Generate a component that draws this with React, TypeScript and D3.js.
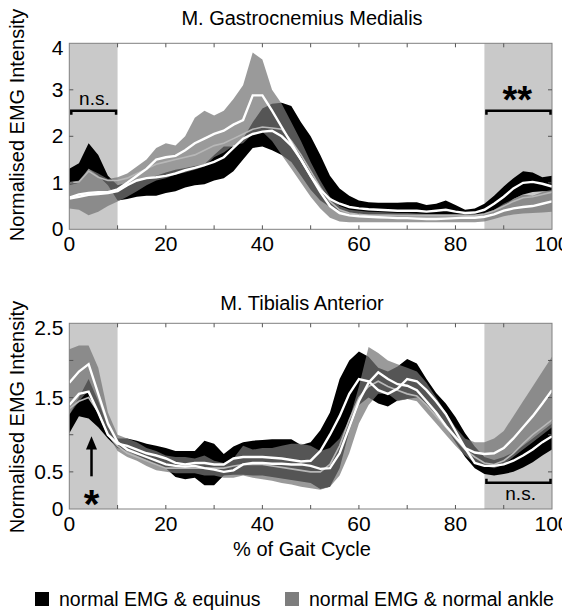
import React from "react";
import * as d3 from "d3";

// % of gait cycle sample points
const gait = [0,2,4,6,8,10,12,14,16,18,20,22,24,26,28,30,32,34,36,38,40,42,44,46,48,50,52,54,56,58,60,62,64,66,68,70,72,74,76,78,80,82,84,86,88,90,92,94,96,98,100];

// ---- M. Gastrocnemius Medialis ----
const gmEqLow = [0.95,1.0,1.3,1.15,0.95,0.62,0.65,0.7,0.72,0.72,0.78,0.82,0.9,0.95,0.97,1.05,1.1,1.25,1.5,1.75,1.78,1.7,1.6,1.45,1.15,0.85,0.62,0.48,0.4,0.35,0.33,0.32,0.32,0.32,0.31,0.31,0.3,0.3,0.3,0.3,0.3,0.28,0.29,0.32,0.4,0.5,0.65,0.75,0.8,0.82,0.82];
const gmEqHigh = [1.3,1.42,1.85,1.6,1.15,0.95,1.0,1.05,1.1,1.15,1.22,1.28,1.32,1.36,1.4,1.6,1.78,1.78,1.95,2.3,2.6,2.7,2.72,2.65,2.3,2.0,1.6,1.15,0.88,0.72,0.62,0.58,0.57,0.57,0.57,0.58,0.58,0.52,0.55,0.62,0.52,0.42,0.45,0.55,0.72,0.92,1.1,1.25,1.22,1.12,1.15];
const gmEqMean = [0.66,0.7,0.74,0.76,0.78,0.82,0.95,1.05,1.1,1.12,1.15,1.2,1.27,1.32,1.38,1.45,1.55,1.75,1.95,2.05,2.1,2.12,2.0,1.8,1.5,1.15,0.85,0.65,0.55,0.48,0.45,0.43,0.42,0.41,0.4,0.4,0.4,0.38,0.4,0.42,0.38,0.35,0.36,0.42,0.55,0.7,0.88,1.0,1.02,0.98,0.92];
const gmNaLow = [0.45,0.42,0.3,0.38,0.5,0.6,0.7,0.82,0.95,1.05,1.1,1.18,1.22,1.28,1.35,1.55,1.65,1.8,1.85,2.05,2.1,1.9,1.6,1.3,1.0,0.7,0.45,0.25,0.17,0.15,0.15,0.15,0.15,0.15,0.15,0.15,0.15,0.15,0.15,0.15,0.15,0.15,0.15,0.17,0.22,0.28,0.32,0.34,0.35,0.36,0.38];
const gmNaHigh = [1.0,1.05,1.3,1.2,1.08,1.12,1.2,1.35,1.5,1.75,1.85,1.8,2.0,2.4,2.55,2.45,2.55,2.8,3.1,3.8,3.65,3.0,2.7,2.3,1.9,1.45,1.05,0.7,0.5,0.42,0.4,0.38,0.37,0.36,0.35,0.35,0.34,0.33,0.33,0.33,0.33,0.32,0.32,0.35,0.42,0.55,0.65,0.75,0.72,0.8,0.85];
const gmNaMean = [0.68,0.75,0.78,0.8,0.8,0.86,1.0,1.15,1.3,1.5,1.55,1.58,1.7,1.85,1.95,2.05,2.12,2.25,2.35,2.88,2.88,2.55,2.2,1.85,1.5,1.15,0.8,0.5,0.35,0.3,0.28,0.27,0.26,0.25,0.24,0.24,0.23,0.22,0.22,0.23,0.24,0.25,0.25,0.27,0.32,0.4,0.45,0.48,0.5,0.55,0.6];
const gmTrace = [1.0,1.02,1.25,1.12,1.05,1.05,1.1,1.2,1.3,1.4,1.45,1.5,1.55,1.6,1.7,1.8,1.85,1.95,2.05,2.15,2.2,2.18,2.15,1.9,1.6,1.25,0.9,0.6,0.42,0.35,0.32,0.3,0.3,0.3,0.3,0.3,0.3,0.3,0.3,0.3,0.3,0.3,0.3,0.33,0.4,0.5,0.6,0.68,0.7,0.75,0.8];

// ---- M. Tibialis Anterior ----
const taEqLow = [1.02,1.25,1.22,1.1,0.95,0.82,0.78,0.72,0.66,0.6,0.55,0.43,0.4,0.42,0.32,0.32,0.45,0.46,0.46,0.45,0.45,0.43,0.41,0.39,0.37,0.35,0.27,0.3,0.55,1.05,1.4,1.5,1.42,1.38,1.46,1.48,1.5,1.4,1.28,1.1,0.9,0.7,0.55,0.47,0.45,0.47,0.5,0.56,0.63,0.72,0.8];
const taEqHigh = [1.27,1.5,1.75,1.45,1.1,0.95,0.95,0.92,0.88,0.85,0.82,0.78,0.78,0.78,0.92,0.88,0.74,0.84,0.9,0.92,0.93,0.94,0.94,0.94,0.86,0.9,1.06,1.3,1.75,2.0,2.12,2.05,1.9,1.85,1.92,2.02,1.96,1.75,1.56,1.42,1.24,1.02,0.84,0.7,0.66,0.7,0.76,0.85,0.95,1.05,1.15];
const taEqMean = [1.4,1.55,1.58,1.3,1.0,0.88,0.85,0.8,0.75,0.72,0.68,0.62,0.6,0.62,0.62,0.6,0.6,0.68,0.7,0.7,0.7,0.69,0.68,0.66,0.64,0.65,0.78,1.0,1.25,1.55,1.75,1.72,1.6,1.55,1.62,1.75,1.72,1.6,1.45,1.28,1.05,0.82,0.62,0.58,0.58,0.6,0.65,0.72,0.8,0.9,0.98];
const taNaLow = [1.27,1.45,1.6,1.3,1.0,0.78,0.7,0.65,0.58,0.52,0.5,0.48,0.48,0.48,0.45,0.45,0.42,0.42,0.45,0.42,0.4,0.38,0.35,0.33,0.3,0.28,0.26,0.3,0.45,0.75,1.15,1.4,1.55,1.55,1.45,1.48,1.45,1.3,1.15,1.0,0.85,0.72,0.62,0.58,0.55,0.6,0.7,0.8,0.9,1.0,1.1];
const taNaHigh = [2.15,2.2,2.2,1.9,1.3,1.0,0.95,0.9,0.82,0.78,0.72,0.7,0.7,0.68,0.72,0.65,0.62,0.68,0.85,0.8,0.82,0.82,0.85,0.88,0.88,0.85,0.78,0.82,0.95,1.2,1.65,2.18,2.1,2.0,1.95,1.9,1.85,1.7,1.5,1.3,1.1,0.95,0.9,0.9,0.95,1.05,1.25,1.45,1.65,1.85,2.05];
const taNaMean = [1.7,1.85,1.95,1.55,1.15,0.9,0.8,0.75,0.7,0.65,0.6,0.58,0.57,0.58,0.55,0.53,0.5,0.52,0.6,0.62,0.62,0.61,0.61,0.6,0.6,0.58,0.54,0.55,0.75,1.1,1.45,1.7,1.84,1.75,1.68,1.66,1.6,1.45,1.3,1.12,0.97,0.82,0.76,0.74,0.75,0.82,0.95,1.1,1.25,1.42,1.6];
const taTrace = [1.35,1.45,1.5,1.3,1.0,0.85,0.75,0.7,0.65,0.6,0.55,0.55,0.55,0.55,0.55,0.55,0.55,0.58,0.6,0.6,0.6,0.58,0.56,0.54,0.52,0.5,0.5,0.6,0.85,1.2,1.5,1.65,1.72,1.65,1.6,1.55,1.52,1.4,1.25,1.1,0.95,0.8,0.7,0.62,0.6,0.65,0.75,0.88,1.0,1.1,1.2];

const xTickLabels = [0, 20, 40, 60, 80, 100];
const xMinorTicks = [10, 20, 30, 40, 50, 60, 70, 80, 90];
const gmYLabels = [0, 1, 2, 3, 4];
const gmYTicks = [1, 2, 3];
const taYLabels = [0, 0.5, 1.5, 2.5];
const taYTicks = [0.5, 1, 1.5, 2];
const shadedWindows: [number, number][] = [[0, 10], [86, 100]];

const legendItems = [
  { label: "normal EMG & equinus", color: "#000000" },
  { label: "normal EMG & normal ankle", color: "#7d7d7d" },
];

const FONT = "Liberation Sans, Arial, Helvetica, sans-serif";
const X0 = 69.3, X1 = 552;
const TEXT_CX = 302;

const x = d3.scaleLinear().domain([0, 100]).range([X0, X1]);

type PanelProps = {
  title: string;
  titleY: number;
  labelCY: number;
  top: number;
  bottom: number;
  yMax: number;
  yLabels: number[];
  yTicks: number[];
  eqLow: number[]; eqHigh: number[]; eqMean: number[];
  naLow: number[]; naHigh: number[]; naMean: number[];
  trace: number[];
  children?: (y: d3.ScaleLinear<number, number>) => React.ReactNode;
};

function Panel(p: PanelProps) {
  const y = d3.scaleLinear().domain([0, p.yMax]).range([p.bottom, p.top]);
  const area = (lo: number[], hi: number[]) =>
    d3.area<number>().x((_, i) => x(gait[i])).y0((_, i) => y(lo[i])).y1((_, i) => y(hi[i]))(gait) || "";
  const line = (v: number[]) => d3.line<number>().x((_, i) => x(gait[i])).y((_, i) => y(v[i]))(gait) || "";
  return (
    <g>
      <text x={TEXT_CX} y={p.titleY} textAnchor="middle" fontSize={20} fontFamily={FONT}>{p.title}</text>
      {shadedWindows.map(([a, b], i) => (
        <rect key={i} x={x(a)} y={p.top} width={x(b) - x(a)} height={p.bottom - p.top} fill="#c9c9c9" />
      ))}
      <path d={area(p.eqLow, p.eqHigh)} fill="#000" />
      <path d={area(p.naLow, p.naHigh)} fill="rgb(116,116,116)" fillOpacity={0.73} />
      <path d={line(p.trace)} fill="none" stroke="#b8b8b8" strokeWidth={1.6} />
      <path d={line(p.eqMean)} fill="none" stroke="#fff" strokeWidth={2.4} />
      <path d={line(p.naMean)} fill="none" stroke="#fff" strokeWidth={2.4} />
      <rect x={X0} y={p.top} width={X1 - X0} height={p.bottom - p.top} fill="none" stroke="#808080" strokeWidth={1} />
      {xMinorTicks.map((t) => (
        <g key={t}>
          <line x1={x(t)} x2={x(t)} y1={p.bottom} y2={p.bottom - 4} stroke="#555" />
          <line x1={x(t)} x2={x(t)} y1={p.top} y2={p.top + 4} stroke="#555" />
        </g>
      ))}
      {p.yTicks.map((t) => (
        <g key={t}>
          <line x1={X0} x2={X0 + 4} y1={y(t)} y2={y(t)} stroke="#555" />
          <line x1={X1} x2={X1 - 4} y1={y(t)} y2={y(t)} stroke="#555" />
        </g>
      ))}
      {xTickLabels.map((t) => (
        <text key={t} x={x(t)} y={p.bottom + 22} textAnchor="middle" fontSize={21} fontFamily={FONT}>{t}</text>
      ))}
      {p.yLabels.map((t) => (
        <text key={t} x={63.5} y={Math.max(y(t) + 7, p.top + 12)} textAnchor="end" fontSize={21} fontFamily={FONT}>{String(t)}</text>
      ))}
      <text transform={`translate(24,${p.labelCY}) rotate(-90)`} textAnchor="middle" fontSize={20} fontFamily={FONT}>Normalised EMG Intensity</text>
      {p.children && p.children(y)}
    </g>
  );
}

function Bracket({ a, b, yv, up }: { a: number; b: number; yv: number; up: boolean }) {
  const d = up ? -4 : 4;
  return (
    <path d={`M${x(a) + 2},${yv + d} L${x(a) + 2},${yv} L${x(b) - 1.5},${yv} L${x(b) - 1.5},${yv + d}`}
      stroke="#000" strokeWidth={2.5} fill="none" />
  );
}

export default function App() {
  return (
    <svg width={562} height={611} style={{ position: "absolute", left: 0, top: 0, background: "#fff" }}>
      <Panel title="M. Gastrocnemius Medialis" titleY={25} labelCY={125} top={43.3} bottom={229.3} yMax={4}
        yLabels={gmYLabels} yTicks={gmYTicks}
        eqLow={gmEqLow} eqHigh={gmEqHigh} eqMean={gmEqMean} naLow={gmNaLow} naHigh={gmNaHigh} naMean={gmNaMean} trace={gmTrace}>
        {(y) => (
          <g>
            <Bracket a={0} b={10} yv={y(2.55)} up={false} />
            <text x={x(5.2)} y={y(2.55) - 5.5} textAnchor="middle" fontSize={19} fontFamily={FONT}>n.s.</text>
            <Bracket a={86} b={100} yv={y(2.55)} up={false} />
            <text x={x(92.8)} y={y(2.55) + 2} textAnchor="middle" fontSize={38} fontWeight="bold" fontFamily={FONT}>**</text>
          </g>
        )}
      </Panel>
      <Panel title="M. Tibialis Anterior" titleY={310} labelCY={417} top={323.3} bottom={509} yMax={2.5}
        yLabels={taYLabels} yTicks={taYTicks}
        eqLow={taEqLow} eqHigh={taEqHigh} eqMean={taEqMean} naLow={taNaLow} naHigh={taNaHigh} naMean={taNaMean} trace={taTrace}>
        {(y) => (
          <g>
            <Bracket a={86} b={100} yv={y(0.354)} up={true} />
            <text x={x(93.5)} y={500} textAnchor="middle" fontSize={19} fontFamily={FONT}>n.s.</text>
            <line x1={x(4.6)} x2={x(4.6)} y1={y(0.44)} y2={y(0.85)} stroke="#000" strokeWidth={2.5} />
            <path d={`M${x(4.6)},${y(0.98)} L${x(4.6) - 5.5},${y(0.8)} L${x(4.6) + 5.5},${y(0.8)} Z`} fill="#000" />
            <text x={x(4.6)} y={518} textAnchor="middle" fontSize={40} fontWeight="bold" fontFamily={FONT}>*</text>
          </g>
        )}
      </Panel>
      <text x={TEXT_CX} y={556} textAnchor="middle" fontSize={20} fontFamily={FONT}>% of Gait Cycle</text>
      <g fontFamily={FONT} fontSize={19.5}>
        {legendItems.map((it, i) => {
          const lx = i === 0 ? 35 : 285;
          return (
            <g key={it.label}>
              <rect x={lx} y={592} width={14} height={14} fill={it.color} />
              <text x={lx + 24} y={606}>{it.label}</text>
            </g>
          );
        })}
      </g>
    </svg>
  );
}
